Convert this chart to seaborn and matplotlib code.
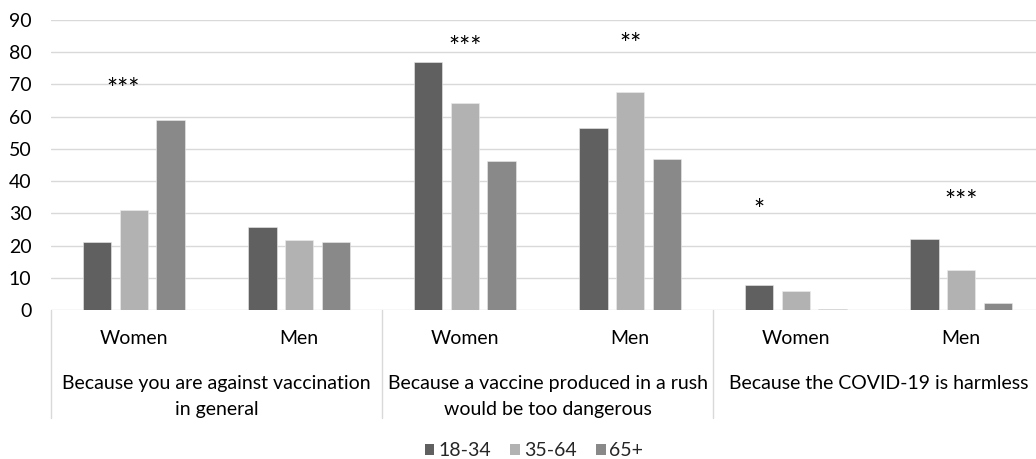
import matplotlib
matplotlib.use("Agg")
import matplotlib.pyplot as plt
import matplotlib.transforms as mtransforms
from matplotlib.patches import Patch
import seaborn as sns
import pandas as pd

# ---- data ----
categories = [
    "Because you are against vaccination\nin general",
    "Because a vaccine produced in a rush\nwould be too dangerous",
    "Because the COVID-19 is harmless",
]
genders = ["Women", "Men"]
ages = ["18-34", "35-64", "65+"]
values_18_34 = [21.2, 25.9, 77.0, 56.5, 7.9, 22.1]
values_35_64 = [31.1, 21.7, 64.3, 67.5, 5.8, 12.3]
values_65plus = [58.9, 21.2, 46.2, 46.9, 0.3, 2.3]
significance = ["***", "", "***", "**", "*", "***"]
significance_y = [65.9, 0, 78.9, 79.9, 28.3, 31.1]
yticks = [0, 10, 20, 30, 40, 50, 60, 70, 80, 90]

colors = {"18-34": "#606060", "35-64": "#b2b2b2", "65+": "#898989"}

sub_labels = [g for _ in categories for g in genders]
slots = [f"{i}" for i in range(len(sub_labels))]
rows = []
for age, vals in zip(ages, [values_18_34, values_35_64, values_65plus]):
    for s, v in zip(slots, vals):
        rows.append({"slot": s, "age": age, "value": v})
df = pd.DataFrame(rows)

sns.set_style("white")
plt.rcParams["font.family"] = ["Lato", "DejaVu Sans"]
FS = 14

fig = plt.figure(figsize=(10.36, 4.59), dpi=100)
W, H = 1036, 459
ax = fig.add_axes([51 / W, (H - 310) / H, 993 / W, 290 / H])

sns.barplot(data=df, x="slot", y="value", hue="age", order=slots, hue_order=ages,
            palette=colors, width=0.662, gap=0.22, ax=ax, legend=False,
            edgecolor="#ececec", linewidth=0.4, saturation=1)

ax.set_xlim(-0.5, len(slots) - 0.5)
ax.set_ylim(0, 90)
ax.set_yticks(yticks)
ax.set_yticklabels([str(t) for t in yticks], fontsize=FS, color="#000000")
ax.tick_params(axis="y", length=0, pad=14)
ax.tick_params(axis="x", length=0)
ax.set_xticks([])
ax.set_xlabel("")
ax.set_ylabel("")
for sp in ax.spines.values():
    sp.set_visible(False)
ax.grid(axis="y", color="#d9d9d9", linewidth=1.0)
ax.set_axisbelow(True)

trans = mtransforms.blended_transform_factory(ax.transData, ax.transAxes)
# separators
for xb in [-0.5, 1.5, 3.5, 5.5]:
    ax.plot([xb, xb], [0, -108 / 290], transform=trans, color="#d9d9d9",
            linewidth=1.0, clip_on=False)

# sub labels
for i, lab in enumerate(sub_labels):
    ax.text(i, -(344 - 310) / 290, lab, transform=trans, ha="center", va="baseline",
            fontsize=FS, color="#000000")
# category labels
for j, cat in enumerate(categories):
    ax.text(2 * j + 0.5, -(389 - 310) / 290, cat.split("\n")[0], transform=trans,
            ha="center", va="baseline", fontsize=FS, color="#000000")
    if "\n" in cat:
        ax.text(2 * j + 0.5, -(415 - 310) / 290, cat.split("\n")[1], transform=trans,
                ha="center", va="baseline", fontsize=FS, color="#000000")

# significance marks
star_offsets = [-0.066, 0, 0, 0, -0.22, 0]
for i, (s, y) in enumerate(zip(significance, significance_y)):
    if s:
        ax.text(i + star_offsets[i], y, s, ha="center", va="baseline",
                fontsize=19, color="#000000")

handles = [Patch(facecolor=colors[a], edgecolor="none", label=a) for a in ages]
fig.legend(handles=handles, loc="center", bbox_to_anchor=(534 / W, 8 / H),
           ncol=3, frameon=False, fontsize=FS, handlelength=0.5,
           handleheight=0.5, handletextpad=0.2, columnspacing=1.0)

fig.savefig("out.png", dpi=100)
